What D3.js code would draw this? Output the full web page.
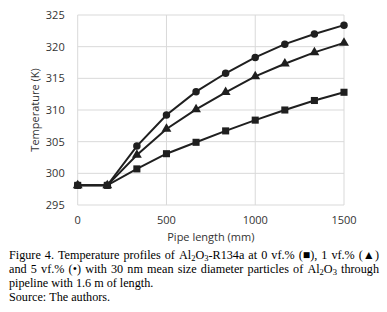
<!DOCTYPE html>
<html>
<head>
<meta charset="utf-8">
<script src="https://cdn.jsdelivr.net/npm/d3@7"></script>
<style>
  body { margin: 0; background: #fff; }
  svg { display: block; }
</style>
</head>
<body>
<div id="chart"></div>
<script>
// pipe length positions (mm) and temperatures (K)
const pipeLength = [0, 166.7, 333.3, 500, 666.7, 833.3, 1000, 1166.7, 1333.3, 1500];
const temp0vf = [298.1, 298.1, 300.7, 303.1, 304.9, 306.7, 308.4, 310.0, 311.5, 312.8];
const temp1vf = [298.1, 298.1, 302.9, 307.0, 310.1, 312.8, 315.3, 317.3, 319.1, 320.6];
const temp5vf = [298.1, 298.1, 304.3, 309.2, 312.9, 315.8, 318.3, 320.4, 322.0, 323.4];
const xTicks = [0, 500, 1000, 1500];
const yTicks = [295, 300, 305, 310, 315, 320, 325];

const captionLines = [
    { text: "Figure 4. Temperature profiles of Al_{2}O_{3}-R134a at 0 vf.% (\u25A0), 1 vf.% (\u25B2)", justify: true },
    { text: "and 5 vf.% (\u2022) with 30 nm mean size diameter particles of Al_{2}O_{3} through", justify: true },
    { text: "pipeline with 1.6 m of length.", justify: false },
    { text: "Source: The authors.", justify: false }
];

const width = 387;
const height = 312;
const margin = { left: 77.7, right: 43, top: 15, bottom: 107 };
const axisFont = "'Open Sans', sans-serif";
const gridColor = "#d9d9d9";
const ink = "#1f1f1f";

const svg = d3.select("#chart")
    .append("svg")
    .attr("width", width)
    .attr("height", height)
    .style("background-color", "#ffffff");

const x = d3.scaleLinear()
    .domain([0, 1500])
    .range([margin.left, width - margin.right]);

const y = d3.scaleLinear()
    .domain([295, 325])
    .range([height - margin.bottom, margin.top]);

// gridlines
svg.append("g")
    .selectAll("line")
    .data(yTicks)
    .join("line")
    .attr("x1", x(0)).attr("x2", x(1500))
    .attr("y1", d => y(d)).attr("y2", d => y(d))
    .attr("stroke", gridColor)
    .attr("stroke-width", 1);

svg.append("g")
    .selectAll("line")
    .data(xTicks)
    .join("line")
    .attr("x1", d => x(d)).attr("x2", d => x(d))
    .attr("y1", y(295)).attr("y2", y(325))
    .attr("stroke", gridColor)
    .attr("stroke-width", 1);

// tick labels
svg.append("g")
    .selectAll("text")
    .data(yTicks)
    .join("text")
    .attr("x", x(0) - 13)
    .attr("y", d => y(d))
    .attr("dy", "0.35em")
    .attr("text-anchor", "end")
    .style("font-family", axisFont)
    .style("font-size", "11px")
    .style("fill", "#333")
    .text(d => d);

svg.append("g")
    .selectAll("text")
    .data(xTicks)
    .join("text")
    .attr("x", d => x(d))
    .attr("y", 224)
    .attr("text-anchor", "middle")
    .style("font-family", axisFont)
    .style("font-size", "11px")
    .style("fill", "#333")
    .text(d => d);

svg.append("text")
    .attr("x", (x(0) + x(1500)) / 2)
    .attr("y", 241)
    .attr("text-anchor", "middle")
    .style("font-family", axisFont)
    .style("font-size", "11px")
    .style("fill", "#333")
    .text("Pipe length (mm)");

svg.append("text")
    .attr("transform", `translate(39,${(y(295) + y(325)) / 2}) rotate(-90)`)
    .attr("text-anchor", "middle")
    .style("font-family", axisFont)
    .style("font-size", "11px")
    .style("fill", "#333")
    .text("Temperature (K)");

// series
const series = [
    { values: temp0vf, marker: d3.symbolSquare, size: 50 },
    { values: temp1vf, marker: d3.symbolTriangle, size: 42 },
    { values: temp5vf, marker: d3.symbolCircle, size: 44 }
];

const line = d3.line()
    .x((d, i) => x(pipeLength[i]))
    .y(d => y(d));

series.forEach(s => {
    svg.append("path")
        .datum(s.values)
        .attr("fill", "none")
        .attr("stroke", ink)
        .attr("stroke-width", 2)
        .attr("d", line);

    svg.append("g")
        .selectAll("path")
        .data(s.values)
        .join("path")
        .attr("transform", (d, i) => `translate(${x(pipeLength[i])},${y(d)})`)
        .attr("d", d3.symbol().type(s.marker).size(s.size))
        .attr("fill", ink);
});

// caption, justified like the journal text
const capLeft = 9;
const capRight = 379;
const capTop = 258.7;
const capLeading = 14;

function addWord(g, word) {
    const t = g.append("text")
        .style("font-family", "'Liberation Serif', 'Times New Roman', serif")
        .style("font-size", "12.2px")
        .style("fill", "#000");
    const parts = word.split(/(_\{[^}]*\})/).filter(p => p.length);
    let sub = false;
    parts.forEach(p => {
        if (p.startsWith("_{")) {
            t.append("tspan")
                .attr("dy", sub ? 0 : 2.5)
                .style("font-size", "8.5px")
                .text(p.slice(2, -1));
            sub = true;
        } else {
            t.append("tspan")
                .attr("dy", sub ? -2.5 : 0)
                .text(p);
            sub = false;
        }
    });
    return t;
}

captionLines.forEach((ln, li) => {
    const g = svg.append("g");
    const yPos = capTop + li * capLeading;
    const words = ln.text.split(" ");
    const nodes = words.map(w => addWord(g, w));
    const widths = nodes.map(n => n.node().getComputedTextLength());
    const total = d3.sum(widths);
    const space = ln.justify && words.length > 1
        ? (capRight - capLeft - total) / (words.length - 1)
        : 3;
    let cx = capLeft;
    nodes.forEach((n, i) => {
        n.attr("x", cx).attr("y", yPos);
        n.selectAll("tspan").filter((d, j) => j === 0).attr("x", cx);
        cx += widths[i] + space;
    });
});
</script>
</body>
</html>
